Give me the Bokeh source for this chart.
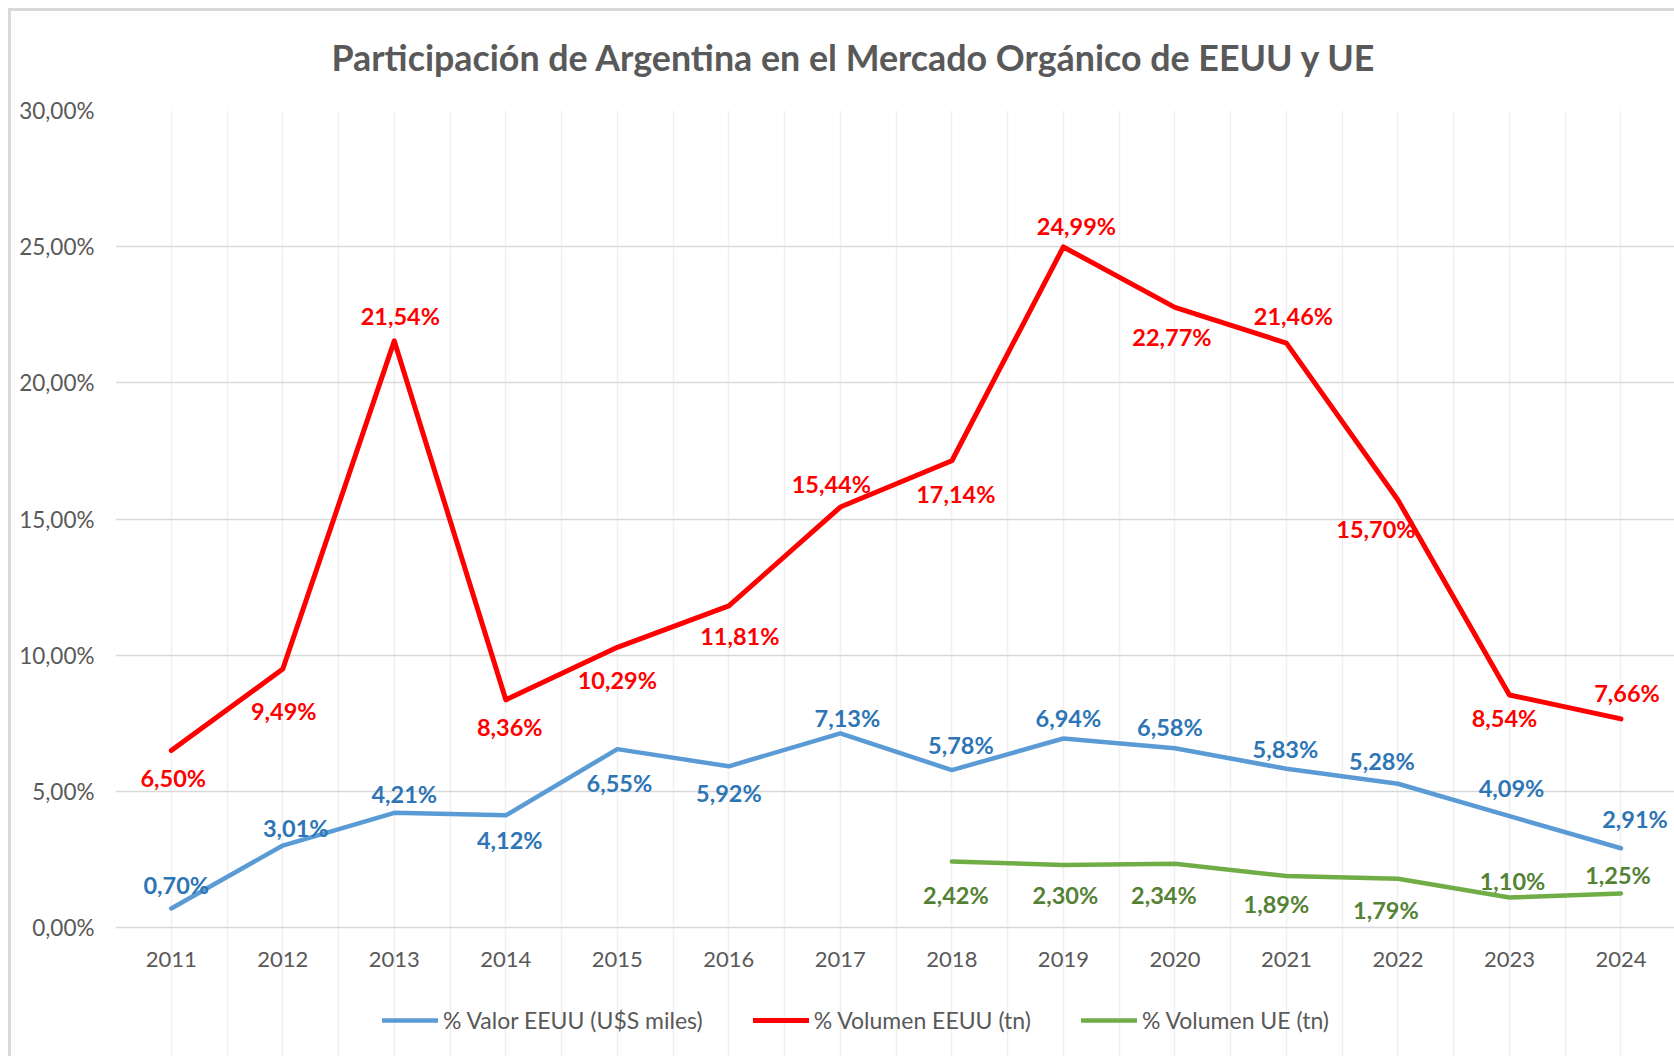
from bokeh.plotting import figure
from bokeh.models import (ColumnDataSource, Range1d, FixedTicker, Legend, LegendItem)
from bokeh.core.properties import value
from bokeh.embed import file_html
from bokeh.resources import INLINE

# ---------------- data ----------------
years = [2011, 2012, 2013, 2014, 2015, 2016, 2017, 2018, 2019, 2020, 2021, 2022, 2023, 2024]
valor_eeuu = [0.70, 3.01, 4.21, 4.12, 6.55, 5.92, 7.13, 5.78, 6.94, 6.58, 5.83, 5.28, 4.09, 2.91]
volumen_eeuu = [6.50, 9.49, 21.54, 8.36, 10.29, 11.81, 15.44, 17.14, 24.99, 22.77, 21.46, 15.70, 8.54, 7.66]
years_ue = [2018, 2019, 2020, 2021, 2022, 2023, 2024]
volumen_ue = [2.42, 2.30, 2.34, 1.89, 1.79, 1.10, 1.25]
y_ticks = [0, 5, 10, 15, 20, 25, 30]
y_tick_labels = ["0,00%", "5,00%", "10,00%", "15,00%", "20,00%", "25,00%", "30,00%"]
x_tick_labels = [str(y) for y in years]
series_names = ["% Valor EEUU (U$S miles)", "% Volumen EEUU (tn)", "% Volumen UE (tn)"]
title_text = "Participación  de Argentina en el Mercado Orgánico de EEUU y UE"

# label placement offsets (screen px) – style only
blue_dx = [5, 13, 10, 4, 2, 0, 7, 9, 5, -5, -1, -16, 2, 14]
blue_dy = [-23, -18, -19, 25, 34, 27, -15, -25, -21, -21, -20, -23, -28, -29]
red_dx = [2, 1, 6, 4, 0, 11, -9, 4, 13, -3, 7, -22, -5, 6]
red_dy = [28, 42, -25, 27, 33, 30, -23, 33, -21, 30, -27, 29, 23, -26]
green_dx = [4, 2, -11, -10, -12, 3, -3]
green_dy = [33, 30, 31, 28, 31, -17, -18]


def fmt(v):
    return f"{v:.2f}".replace(".", ",") + "%"


FONT = "Lato"
GRAY = "#595959"
BLUE, BLUE_T = "#5b9bd5", "#2e75b6"
RED = "#ff0000"
GREEN, GREEN_T = "#70ad47", "#548235"

p = figure(width=1674, height=1056, output_backend="svg", toolbar_location=None,
           x_range=Range1d(2010.5, 2024.48), y_range=Range1d(-4.736, 30))
p.min_border_left = 115
p.min_border_right = 0
p.min_border_top = 110
p.min_border_bottom = 0
p.outline_line_color = None
p.background_fill_color = "white"
p.border_fill_alpha = 0
p.styles = {
    "background-color": "white",
    "background-image": "linear-gradient(#d9d9d9, #d9d9d9), linear-gradient(#d9d9d9, #d9d9d9)",
    "background-size": "3px 100%, 100% 3px",
    "background-position": "8px 8px, 8px 8px",
    "background-repeat": "no-repeat, no-repeat",
}

# title
p.title.text = title_text
p.title.text_font = FONT
p.title.text_font_size = "35.8px"
p.title.text_font_style = "bold"
p.title.text_color = GRAY
p.title.align = "left"
p.title.vertical_align = "top"
p.title.offset = 216
p.title.standoff = 60

# y axis
p.yaxis.ticker = FixedTicker(ticks=y_ticks)
p.yaxis.major_label_overrides = {t: l for t, l in zip(y_ticks, y_tick_labels)}
p.yaxis.axis_line_color = None
p.yaxis.major_tick_line_color = None
p.yaxis.minor_tick_line_color = None
p.yaxis.major_tick_out = 0
p.yaxis.major_tick_in = 0
p.yaxis.major_label_text_font = FONT
p.yaxis.major_label_text_font_size = "22.5px"
p.yaxis.major_label_text_color = GRAY
p.yaxis.major_label_standoff = 21

# x axis: category labels drawn under the zero line
p.xaxis.visible = False

# grids
half_ticks = sorted(set([y for y in years] + [y - 0.5 for y in years] + [years[-1] + 0.5]))
p.xgrid.ticker = FixedTicker(ticks=half_ticks)
p.xgrid.grid_line_color = "#f0f0f0"
p.xgrid.grid_line_width = 1.5
p.xgrid.bounds = (y_ticks[0], y_ticks[-1])
p.ygrid.ticker = FixedTicker(ticks=y_ticks)
p.ygrid.grid_line_color = "#d9d9d9"
p.ygrid.grid_line_width = 1.5

src_x = ColumnDataSource(dict(x=years, y=[y_ticks[0]] * len(years), t=x_tick_labels))
p.text("x", "y", text="t", source=src_x, y_offset=32, text_align="center", text_baseline="middle",
       text_font=value(FONT), text_font_size="22px", text_color=GRAY)

# lines
src_b = ColumnDataSource(dict(x=years, y=valor_eeuu, t=[fmt(v) for v in valor_eeuu], dx=blue_dx, dy=blue_dy))
src_r = ColumnDataSource(dict(x=years, y=volumen_eeuu, t=[fmt(v) for v in volumen_eeuu], dx=red_dx, dy=red_dy))
src_g = ColumnDataSource(dict(x=years_ue, y=volumen_ue, t=[fmt(v) for v in volumen_ue], dx=green_dx, dy=green_dy))

lb = p.line("x", "y", source=src_b, line_color=BLUE, line_width=4.5, line_join="round", line_cap="round")
lr = p.line("x", "y", source=src_r, line_color=RED, line_width=5, line_join="round", line_cap="round")
lg = p.line("x", "y", source=src_g, line_color=GREEN, line_width=4.5, line_join="round", line_cap="round")

for src, col in ((src_b, BLUE_T), (src_r, RED), (src_g, GREEN_T)):
    p.text("x", "y", text="t", source=src, x_offset="dx", y_offset="dy",
           text_align="center", text_baseline="middle",
           text_font=value(FONT), text_font_size="23.5px", text_font_style="bold",
           text_color=col)

legend = Legend(items=[LegendItem(label=series_names[0], renderers=[lb]),
                       LegendItem(label=series_names[1], renderers=[lr]),
                       LegendItem(label=series_names[2], renderers=[lg])],
                orientation="horizontal", location=(267, 22))
legend.padding = 0
legend.margin = 0
legend.border_line_color = None
legend.background_fill_alpha = 0
legend.glyph_width = 56
legend.glyph_height = 24
legend.label_standoff = 5
legend.spacing = 50
legend.label_text_font = FONT
legend.label_text_font_size = "23px"
legend.label_text_color = GRAY
p.add_layout(legend, "center")

open("out.html", "w").write(file_html(p, INLINE))
